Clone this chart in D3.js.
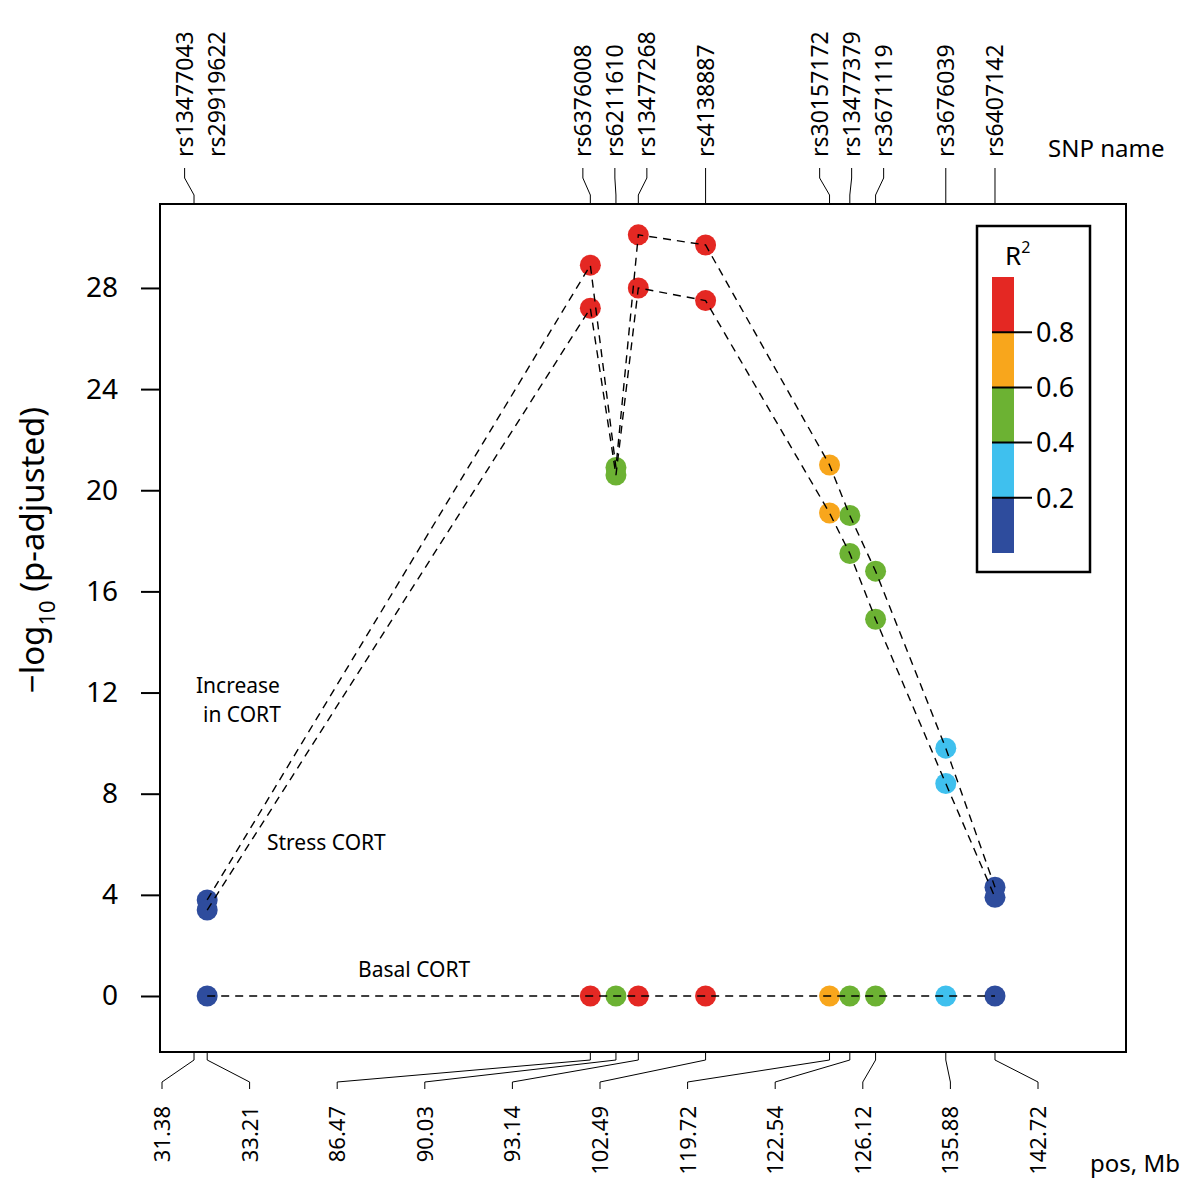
<!DOCTYPE html>
<html>
<head>
<meta charset="utf-8">
<script src="https://cdn.jsdelivr.net/npm/d3@7/dist/d3.min.js"></script>
<style>
  html, body { margin: 0; padding: 0; background: #fff; }
  svg { display: block; font-family: "Noto Sans", "Open Sans", sans-serif; }
</style>
</head>
<body>
<svg id="chart" width="1200" height="1191"></svg>
<script>
// ---------------- data ----------------
const snpNames = ["rs13477043","rs29919622","rs6376008","rs6211610","rs13477268","rs4138887",
                  "rs30157172","rs13477379","rs3671119","rs3676039","rs6407142"];
const posMb    = [31.38, 33.21, 86.47, 90.03, 93.14, 102.49, 119.72, 122.54, 126.12, 135.88, 142.72];
const posLabels = ["31.38","33.21","86.47","90.03","93.14","102.49","119.72","122.54","126.12","135.88","142.72"];
const r2Values = [null, 0.10, 0.90, 0.50, 0.90, 0.90, 0.70, 0.50, 0.50, 0.30, 0.10];
const increaseCort = [null, 3.8, 28.9, 20.9, 30.1, 29.7, 21.0, 19.0, 16.8, 9.8, 4.3];
const stressCort   = [null, 3.4, 27.2, 20.6, 28.0, 27.5, 19.1, 17.5, 14.9, 8.4, 3.9];
const basalCort    = [null, 0, 0, 0, 0, 0, 0, 0, 0, 0, 0];
const yTicks = [0, 4, 8, 12, 16, 20, 24, 28];
const r2Breaks = [0.2, 0.4, 0.6, 0.8];
const r2Colors = ["#2e4c9d", "#3fc0ee", "#6cb233", "#f8a61c", "#e42823"];
const snpWithoutTopLink = ["rs29919622"];

// ---------------- layout ----------------
const box = {left: 160, right: 1126, top: 204, bottom: 1052};
const svg = d3.select("#chart");

const x = d3.scaleLinear().domain([26.65, 160.93]).range([box.left, box.right]);
const y = d3.scaleLinear().domain([-2.215, 31.32]).range([box.bottom, box.top]);
const color = d3.scaleThreshold().domain(r2Breaks).range(r2Colors);

// ---------------- points (drawn first, lines on top) ----------------
const series = [increaseCort, stressCort, basalCort];
const pts = [];
series.forEach((s, si) => s.forEach((v, i) => {
  if (v !== null) pts.push({si, i, v});
}));
svg.append("g").selectAll("circle").data(pts).join("circle")
  .attr("cx", d => x(posMb[d.i]))
  .attr("cy", d => y(d.v))
  .attr("r", 10.5)
  .attr("fill", d => color(r2Values[d.i]));

const line = d3.line()
  .defined(d => d.v !== null)
  .x(d => x(posMb[d.i]))
  .y(d => y(d.v));

series.forEach(s => {
  const data = s.map((v, i) => ({v, i})).filter(d => d.v !== null);
  svg.append("path")
    .datum(data)
    .attr("d", line)
    .attr("fill", "none")
    .attr("stroke", "#000")
    .attr("stroke-width", 1.4)
    .attr("stroke-dasharray", "8,6");
});

// ---------------- box ----------------
svg.append("rect")
  .attr("x", box.left).attr("y", box.top)
  .attr("width", box.right - box.left).attr("height", box.bottom - box.top)
  .attr("fill", "none").attr("stroke", "#000").attr("stroke-width", 2);

// ---------------- y axis ----------------
const yAxis = svg.append("g")
  .attr("transform", `translate(${box.left},0)`)
  .call(d3.axisLeft(y).tickValues(yTicks).tickSize(19).tickPadding(23).tickFormat(d3.format("d")));
yAxis.select(".domain").remove();
yAxis.selectAll("line").attr("stroke-width", 2);
yAxis.selectAll("text").attr("font-size", 28).attr("font-family", "Noto Sans").attr("fill", "#000");

const yTitle = svg.append("text")
  .attr("transform", "translate(44,550) rotate(-90)")
  .attr("text-anchor", "middle")
  .attr("font-size", 33)
  .attr("fill", "#000");
yTitle.append("tspan").text("\u2212log");
yTitle.append("tspan").attr("font-size", 22).attr("dy", 11).text("10");
yTitle.append("tspan").attr("dy", -11).text(" (p-adjusted)");

// ---------------- top axis: SNP names ----------------
// simple label repel: groups of ticks closer than minGap get spread evenly around their mean
function repel(xs, minGap) {
  const groups = [];
  xs.forEach((v, i) => {
    const g = groups[groups.length - 1];
    if (g && v - xs[g[g.length - 1]] < minGap) g.push(i); else groups.push([i]);
  });
  const out = [];
  groups.forEach(g => {
    const m = d3.mean(g, i => xs[i]);
    g.forEach((i, k) => { out[i] = m + (k - (g.length - 1) / 2) * minGap; });
  });
  return out;
}
const tickX = posMb.map(p => x(p));
const topSlot = repel(tickX, 32);

const topG = svg.append("g");
snpNames.forEach((name, i) => {
  if (!snpWithoutTopLink.includes(name)) {
    topG.append("path")
      .attr("d", `M${topSlot[i]},168 L${topSlot[i]},178 L${tickX[i]},195 L${tickX[i]},${box.top}`)
      .attr("fill", "none").attr("stroke", "#000").attr("stroke-width", 1);
  }
  topG.append("text")
    .attr("transform", `translate(${topSlot[i] + 8},157) rotate(-90)`)
    .attr("text-anchor", "start")
    .attr("font-size", 23)
    .attr("fill", "#000")
    .text(name);
});
svg.append("text").attr("x", 1048).attr("y", 157).attr("font-size", 24).attr("fill", "#000").text("SNP name");

// ---------------- bottom axis: positions ----------------
const slot = d3.scaleLinear().domain([0, posMb.length - 1]).range([162, 1038]);
const botG = svg.append("g");
posMb.forEach((p, i) => {
  const sx = slot(i);
  botG.append("path")
    .attr("d", `M${tickX[i]},${box.bottom} L${tickX[i]},1060 L${sx},1082 L${sx},1089`)
    .attr("fill", "none").attr("stroke", "#000").attr("stroke-width", 1);
  botG.append("text")
    .attr("transform", `translate(${sx + 8},1106) rotate(-90)`)
    .attr("text-anchor", "end")
    .attr("font-size", 22)
    .attr("fill", "#000")
    .text(posLabels[i]);
});
svg.append("text").attr("x", 1090).attr("y", 1172).attr("font-size", 24).attr("fill", "#000").text("pos, Mb");

// ---------------- annotations ----------------
const ann = [
  {t: "Increase", x: 196, y: 693},
  {t: "in CORT", x: 203, y: 722},
  {t: "Stress CORT", x: 267, y: 850},
  {t: "Basal CORT", x: 358, y: 977}
];
svg.append("g").selectAll("text").data(ann).join("text")
  .attr("x", d => d.x).attr("y", d => d.y)
  .attr("font-size", 21).attr("fill", "#000")
  .text(d => d.t);

// ---------------- legend ----------------
const lg = svg.append("g");
lg.append("rect").attr("x", 977).attr("y", 226).attr("width", 113).attr("height", 346)
  .attr("fill", "#fff").attr("stroke", "#000").attr("stroke-width", 2.5);
const ly = d3.scaleLinear().domain([0, 1]).range([553, 277]);
const bins = [0, ...r2Breaks, 1];
lg.selectAll("rect.bin").data(d3.range(bins.length - 1)).join("rect")
  .attr("class", "bin")
  .attr("x", 992).attr("width", 22)
  .attr("y", k => ly(bins[k + 1]))
  .attr("height", k => ly(bins[k]) - ly(bins[k + 1]))
  .attr("fill", k => r2Colors[k]);
lg.selectAll("line.tk").data(r2Breaks).join("line")
  .attr("class", "tk")
  .attr("x1", 992).attr("x2", 1032)
  .attr("y1", d => ly(d)).attr("y2", d => ly(d))
  .attr("stroke", "#000").attr("stroke-width", 2);
lg.selectAll("text.tl").data(r2Breaks).join("text")
  .attr("class", "tl")
  .attr("x", 1036).attr("y", d => ly(d)).attr("dy", "0.36em")
  .attr("font-size", 27).attr("fill", "#000")
  .text(d => d3.format(".1f")(d));
const rt = lg.append("text").attr("x", 1005).attr("y", 265).attr("font-size", 26).attr("fill", "#000");
rt.append("tspan").text("R");
rt.append("tspan").attr("font-size", 16).attr("dy", -12).text("2");
</script>
</body>
</html>
